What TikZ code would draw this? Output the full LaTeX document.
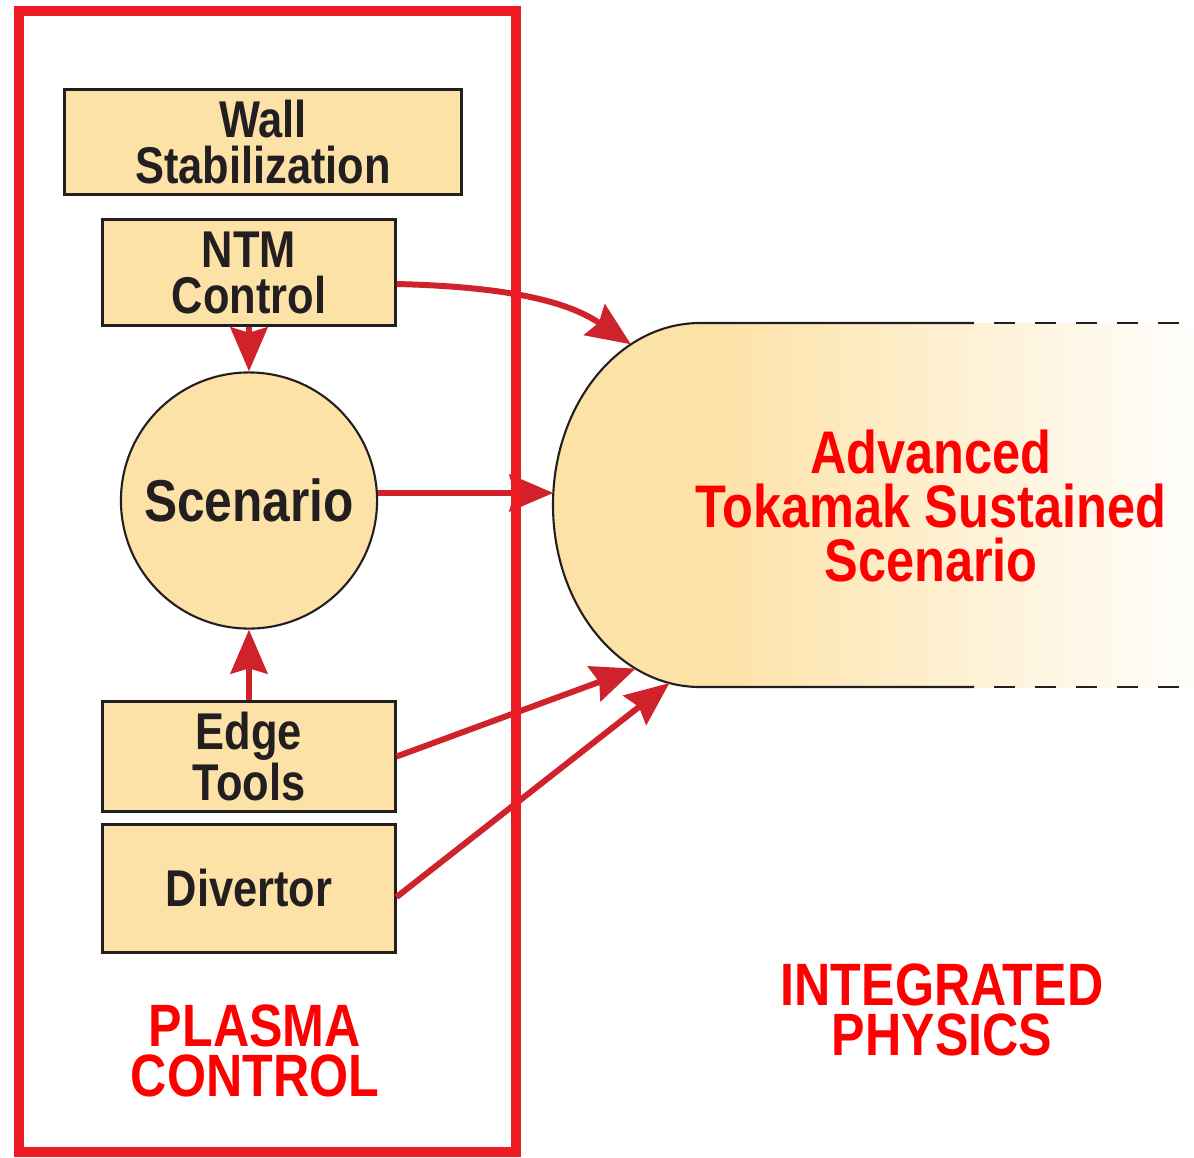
\documentclass[tikz,border=0pt]{standalone}
\usepackage{fontspec}
\newfontfamily\cnfont[FakeStretch=0.84]{Liberation Sans}
\usetikzlibrary{arrows.meta}
\definecolor{boxfill}{HTML}{FDE2A7}
\definecolor{txtblack}{HTML}{231F20}
\definecolor{framered}{HTML}{ED1C24}
\definecolor{arrowred}{HTML}{D0222B}
\definecolor{labelred}{HTML}{FF0000}

\begin{document}
\begin{tikzpicture}[x=0.01cm,y=0.01cm,
  box/.style={draw=txtblack,line width=0.85pt,fill=boxfill,inner sep=0pt,align=center,text=txtblack,
    font=\cnfont\bfseries\fontsize{14.7pt}{13.1pt}\selectfont},
  flow/.style={draw=arrowred,line width=1.7pt,-{Stealth[length=12.5pt,width=10.5pt,inset=1.5pt]}},
  redlabel/.style={text=labelred,align=center,font=\cnfont\bfseries\fontsize{17pt}{14.2pt}\selectfont}]
\useasboundingbox (0,0) rectangle (1194,-1157);
\fill[boxfill] (700,-323) arc[start angle=90,end angle=270,x radius=147,y radius=182] -- (716,-687) -- (716,-323) -- cycle;
\shade[left color=boxfill,middle color=boxfill!42!white,right color=white!97!boxfill] (715,-323) rectangle (1194,-687);
\draw[txtblack,line width=0.6pt] (974,-323) -- (700,-323) arc[start angle=90,end angle=270,x radius=147,y radius=182] -- (974,-687);
\draw[txtblack,line width=0.6pt,dash pattern=on 0.205cm off 0.205cm] (994,-323) -- (1194,-323);
\draw[txtblack,line width=0.6pt,dash pattern=on 0.205cm off 0.205cm] (994,-687) -- (1194,-687);
\node[text=labelred,align=center,font=\cnfont\bfseries\fontsize{17.1pt}{15.4pt}\selectfont] (ats) at (931,-506) {Advanced\\Tokamak Sustained\\Scenario};
\node[box,minimum width=3.96cm,minimum height=1.04cm] (wall) at (263,-142) {Wall\\Stabilization};
\node[box,minimum width=2.92cm,minimum height=1.05cm] (ntm) at (249,-272.5) {NTM\\Control};
\node[box,circle,line width=0.6pt,minimum size=2.56cm,font=\cnfont\bfseries\fontsize{16.8pt}{15pt}\selectfont] (scen) at (249,-500.5) {Scenario};
\node[box,minimum width=2.92cm,minimum height=1.09cm] (edge) at (249,-756.5) {Edge\\Tools};
\node[box,minimum width=2.92cm,minimum height=1.27cm] (div) at (249,-888.5) {Divertor};
\node[redlabel] (pc) at (255,-1051) {PLASMA\\CONTROL};
\node[redlabel] (ip) at (942,-1010) {INTEGRATED\\PHYSICS};
\coordinate (atsc) at (700,-505);
\coordinate (tipntm) at ([shift={(118:147 and 182)}]atsc);
\coordinate (tipscen) at ([shift={(176.2:147 and 182)}]atsc);
\coordinate (tipedge) at ([shift={(-116:147 and 182)}]atsc);
\coordinate (tipdiv) at ([shift={(-102:147 and 182)}]atsc);
\draw[flow] ([yshift=-0.115cm]ntm.east) .. controls +(125,-3) and +(146:70) .. (tipntm);
\draw[flow] (ntm) -- (scen);
\draw[flow] (scen.east |- tipscen) -- (tipscen);
\draw[flow] (edge) -- (scen);
\draw[flow] (edge.east) -- (tipedge);
\draw[flow] ([yshift=-0.085cm]div.east) -- (tipdiv);
\draw[framered,line width=2.85pt] (19,-11) rectangle (516,-1152);
\end{tikzpicture}
\end{document}
